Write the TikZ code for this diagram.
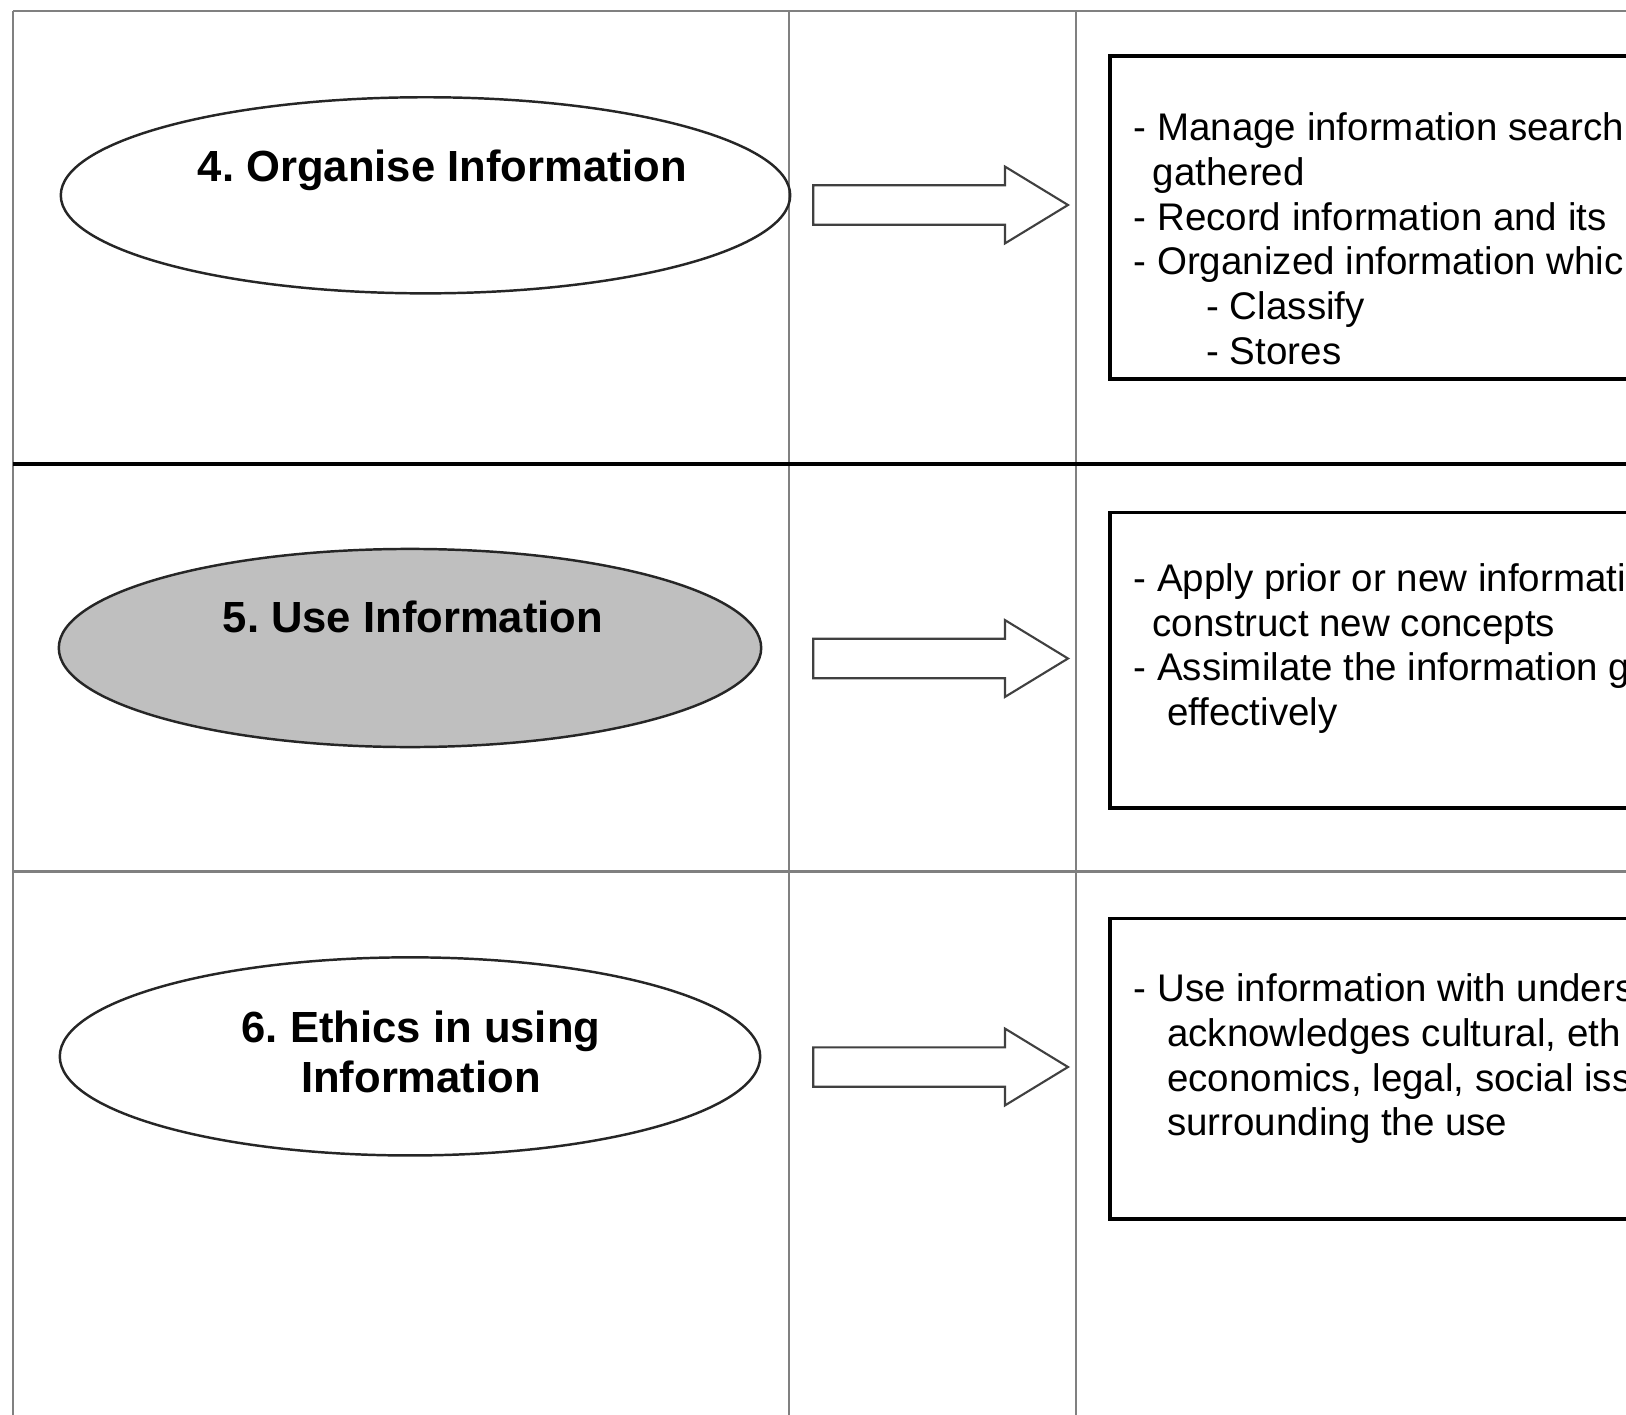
\documentclass[tikz,border=0pt]{standalone}
\usepackage{fontspec}
\setmainfont{Liberation Sans}
\frenchspacing
\usetikzlibrary{shapes.geometric}

\begin{document}
\begin{tikzpicture}[x=0.01cm,y=-0.01cm,
    grid/.style={draw=black!50,line width=0.6pt},
    stage/.style={ellipse,draw=black!85,line width=0.7pt,inner sep=0pt},
    stagetext/.style={font=\fontsize{12.4}{13.95}\selectfont\bfseries,align=center,inner sep=0pt,anchor=base},
    infobox/.style={draw,line width=1.1pt,inner sep=0pt,anchor=north west,minimum width=6cm},
    infotext/.style={font=\fontsize{10.95}{12.7}\selectfont,align=left,anchor=base west,inner sep=0pt},
    blockarrow/.style={draw=black!75,line width=0.6pt,fill=white}]
    \useasboundingbox (0,0) rectangle (1626,1415);
    \clip (0,0) rectangle (1626,1415);
    \draw[grid] (12.8,10.7) -- (1700,10.7);
    \draw[grid] (12.8,10.7) -- (12.8,1500);
    \draw[grid] (789,10.7) -- (789,1500);
    \draw[grid] (1075.8,10.7) -- (1075.8,1500);
    \draw[grid] (12.8,871.5) -- (1700,871.5);
    \draw[line width=1.3pt] (12.8,464) -- (1700,464);
    \node[stage,minimum width=7.29cm,minimum height=1.96cm] (organise) at (425.5,195.3) {};
    \node[stage,fill=black!25,minimum width=7.02cm,minimum height=1.98cm] (use) at (410,648) {};
    \node[stage,minimum width=7.00cm,minimum height=1.98cm] (ethics) at (410,1056.4) {};
    % base anchor sits on the last line
    \node[stagetext] (organise text) at (442.5,181.7) {4. Organise Information};
    \node[stagetext] (use text) at (413,632.7) {5. Use Information};
    \node[stagetext] (ethics text) at (421,1092) {6. Ethics in using\\Information};
    \foreach \y in {205,658.5,1067}
    {
      \begin{scope}[shift={(813.3,\y)}]
        \draw[blockarrow] (0,-19.7) -- (191.7,-19.7) -- (191.7,-38.4) -- (254.7,0)
          -- (191.7,38.4) -- (191.7,19.7) -- (0,19.7) -- cycle;
      \end{scope}
    }
    \node[infobox,minimum height=3.227cm] (organise box) at (1108,54) {};
    \node[infobox,minimum height=2.955cm] (use box) at (1108,510.5) {};
    \node[infobox,minimum height=3.0cm] (ethics box) at (1108,916.5) {};
    \node[infotext] (organise list) at (1133,364) {- Manage information search\\
      \hspace*{5.4pt}gathered\\
      - Record information and its\\
      - Organized information whic\\
      \hspace*{20.7pt}- Classify\\
      \hspace*{20.7pt}- Stores};
    \node[infotext] (use list) at (1133,725.4) {- Apply prior or new informati\\
      \hspace*{5.4pt}construct new concepts\\
      - Assimilate the information g\\
      \hspace*{9.5pt}effectively};
    \node[infotext] (ethics list) at (1133,1135.9) {- Use information with unders\\
      \hspace*{9.5pt}acknowledges cultural, eth\\
      \hspace*{9.5pt}economics, legal, social iss\\
      \hspace*{9.5pt}surrounding the use};
  \end{tikzpicture}
\end{document}
